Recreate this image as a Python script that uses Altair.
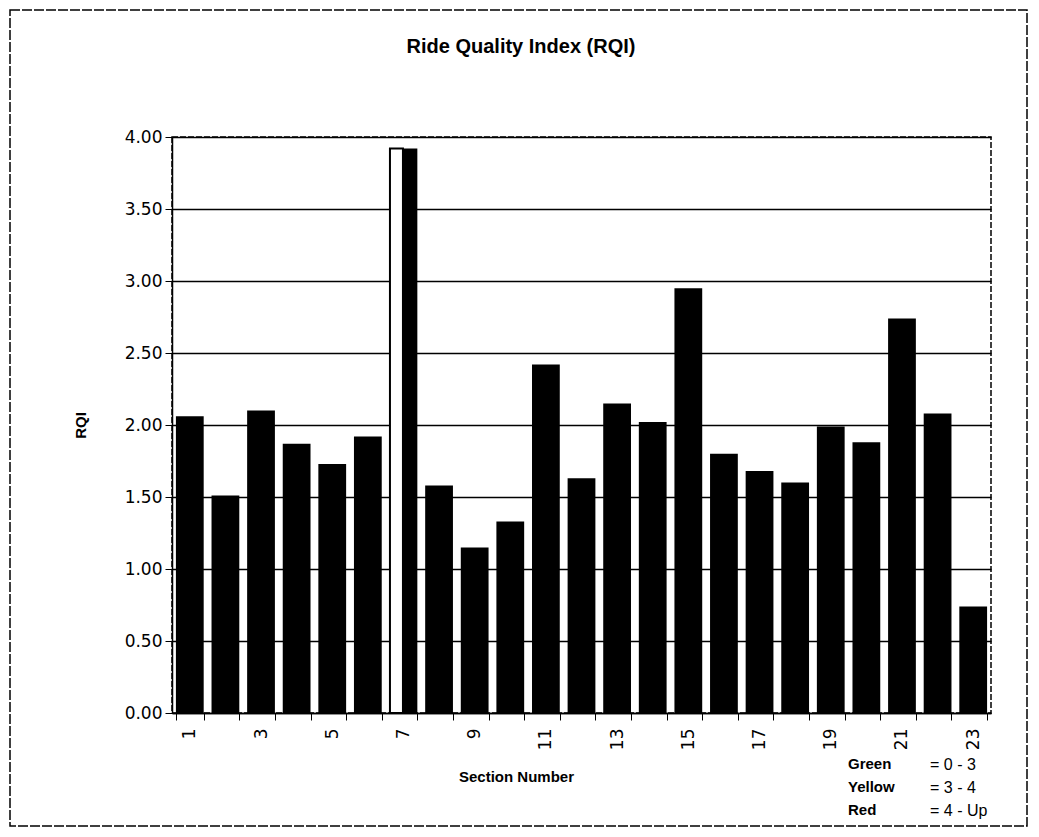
import altair as alt
import pandas as pd

# ---- data ----
sections = list(range(1, 24))
rqi = [2.06, 1.51, 2.10, 1.87, 1.73, 1.92, 3.92, 1.58, 1.15, 1.33, 2.42, 1.63,
       2.15, 2.02, 2.95, 1.80, 1.68, 1.60, 1.99, 1.88, 2.74, 2.08, 0.74]
highlight_section = 7
y_ticks = [0.0, 0.5, 1.0, 1.5, 2.0, 2.5, 3.0, 3.5, 4.0]
chart_title = "Ride Quality Index (RQI)"
legend_names = ["Green", "Yellow", "Red"]
legend_ranges = ["= 0 - 3", "= 3 - 4", "= 4 - Up"]

df = pd.DataFrame({"section": sections, "rqi": rqi})
one = pd.DataFrame({"k": [0]})

W, H = 819, 576
OX, OY = 172, 137  # page position of the plot's top-left corner
FONT = "Liberation Sans"

x_enc = alt.X(
    "section:O",
    sort="ascending",
    scale=alt.Scale(paddingInner=0.22, paddingOuter=0.11),
    axis=alt.Axis(
        title="Section Number",
        labelAngle=-90,
        labelExpr="datum.value % 2 == 1 ? datum.label : ''",
        tickBand="extent",
        tickSize=7,
        tickColor="black",
        domainColor="black",
        domainWidth=1.5,
        labelFont="DejaVu Sans",
        labelFontSize=17,
        labelColor="black",
        labelPadding=8,
        titleFont=FONT,
        titleFontSize=15,
        titleFontWeight="bold",
        titleColor="black",
        titleX=344,
        titleY=56,
        titleAlign="center",
    ),
)

y_enc = alt.Y(
    "rqi:Q",
    scale=alt.Scale(domain=[0, 4], nice=False),
    axis=alt.Axis(
        title="RQI",
        values=y_ticks,
        format=".2f",
        grid=True,
        gridColor="black",
        gridWidth=1.5,
        tickSize=7,
        tickColor="black",
        domainColor="black",
        domainWidth=1.5,
        labelFont="DejaVu Sans",
        labelFontSize=17,
        labelColor="black",
        labelPadding=3,
        titleFont=FONT,
        titleFontSize=15,
        titleFontWeight="bold",
        titleColor="black",
        titlePadding=36,
    ),
)

bars = alt.Chart(df).mark_bar(color="black").encode(x=x_enc, y=y_enc)

front7 = (
    alt.Chart(df)
    .transform_filter(alt.datum.section == highlight_section)
    .mark_bar(fill="white", stroke="black", strokeWidth=2, width=13, xOffset=-7)
    .encode(x=alt.X("section:O", sort="ascending"), y=alt.Y("rqi:Q"))
)

title_text = alt.Chart(one).mark_text(
    align="center", baseline="middle", font=FONT, fontSize=20, fontWeight="bold",
    color="black",
).encode(x=alt.value(521 - OX), y=alt.value(47 - OY), text=alt.value(chart_title))

legend_left = alt.Chart(one).mark_text(
    align="left", baseline="top", font=FONT, fontSize=15, fontWeight="bold",
    color="black", lineBreak="\n", lineHeight=23,
).encode(
    x=alt.value(848 - OX), y=alt.value(757 - OY),
    text=alt.value("\n".join(legend_names)),
)

legend_right = alt.Chart(one).mark_text(
    align="left", baseline="top", font=FONT, fontSize=16,
    color="black", lineBreak="\n", lineHeight=23,
).encode(
    x=alt.value(930 - OX), y=alt.value(757 - OY),
    text=alt.value("\n".join(legend_ranges)),
)

frame = alt.Chart(one).mark_rect(
    fill="transparent", stroke="black", strokeWidth=1.5, strokeDash=[10, 2]
).encode(
    x=alt.value(10 - OX), x2=alt.value(1027 - OX),
    y=alt.value(10 - OY), y2=alt.value(826 - OY),
)

chart = (
    alt.layer(bars, front7, title_text, legend_left, legend_right, frame)
    .properties(
        width=W,
        height=H,
        autosize=alt.AutoSizeParams(type="none"),
        padding={"left": OX - 8, "top": OY - 8, "right": 38, "bottom": 114},
        background="white",
    )
    .configure_view(stroke="black", strokeDash=[6, 2], strokeWidth=1.5)
)

chart.save("out.html", embed_options={"renderer": "svg", "actions": False})
